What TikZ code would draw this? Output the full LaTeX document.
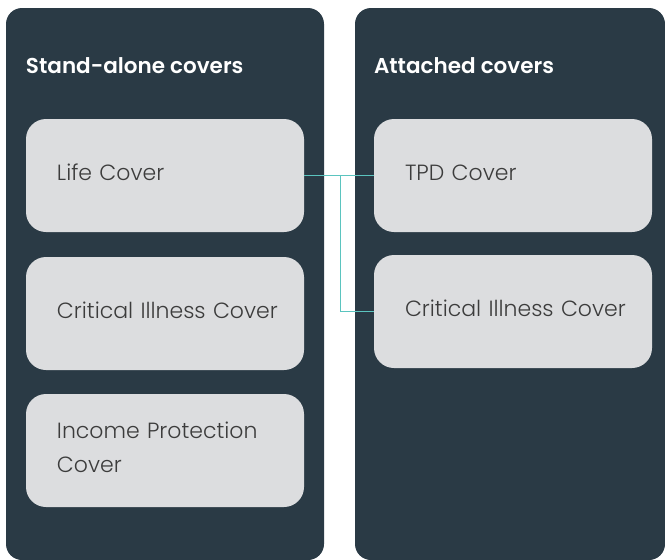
\documentclass[tikz,border=0pt]{standalone}
\usepackage{fontspec}
\setmainfont{Poppins}[UprightFont={* Light},BoldFont={* SemiBold}]
\usetikzlibrary{positioning,calc}
\definecolor{panelgrey}{HTML}{2A3A45}
\definecolor{boxgrey}{HTML}{DCDDDF}
\definecolor{textgrey}{HTML}{3C3C3C}
\definecolor{linkteal}{HTML}{5BC4BF}

\begin{document}
\begin{tikzpicture}[x=1pt,y=-1pt]
    \tikzstyle{every node}=[inner sep=0,outer sep=0]
    \tikzstyle{panel}=[fill=panelgrey,rounded corners=16,anchor=north west]
    \tikzstyle{heading}=[text=white,font=\bfseries\fontsize{21.5}{24}\selectfont,anchor=west]
    \tikzstyle{cover}=[fill=boxgrey,rounded corners=20,minimum height=113,
        anchor=north west,align=left,text=textgrey,font=\fontsize{22}{34}\selectfont,
        text width=278,text depth=6,execute at begin node=\leftskip31pt\relax]
    \tikzstyle{link}=[draw=linkteal,line width=1]
    \useasboundingbox (0,0) rectangle (665,560);
    {
        \node[panel,minimum width=318,minimum height=552] (standalone) at (6,8) {};
        \node[panel,minimum width=310,minimum height=552] (attached) at (355,8) {};

        \node[heading] (labels) at (26,66) {Stand-alone covers};
        \node[heading] (labela) at (374,66) {Attached covers};

        \node[cover] (life) at (26,119) {Life Cover};
        \node[cover] (ci1) at (26,257) {Critical Illness Cover};
        \node[cover,text depth=40] (ip) at (26,394) {Income Protection\\Cover};
        \node[cover] (tpd) at (374,119) {TPD Cover};
        \node[cover] (ci2) at (374,255) {Critical Illness Cover};

        \coordinate (split) at (340,175.5);
        \draw[link] (life.east) -- (tpd.west);
        \draw[link] (split) |- (ci2.west);
    }
\end{tikzpicture}
\end{document}
